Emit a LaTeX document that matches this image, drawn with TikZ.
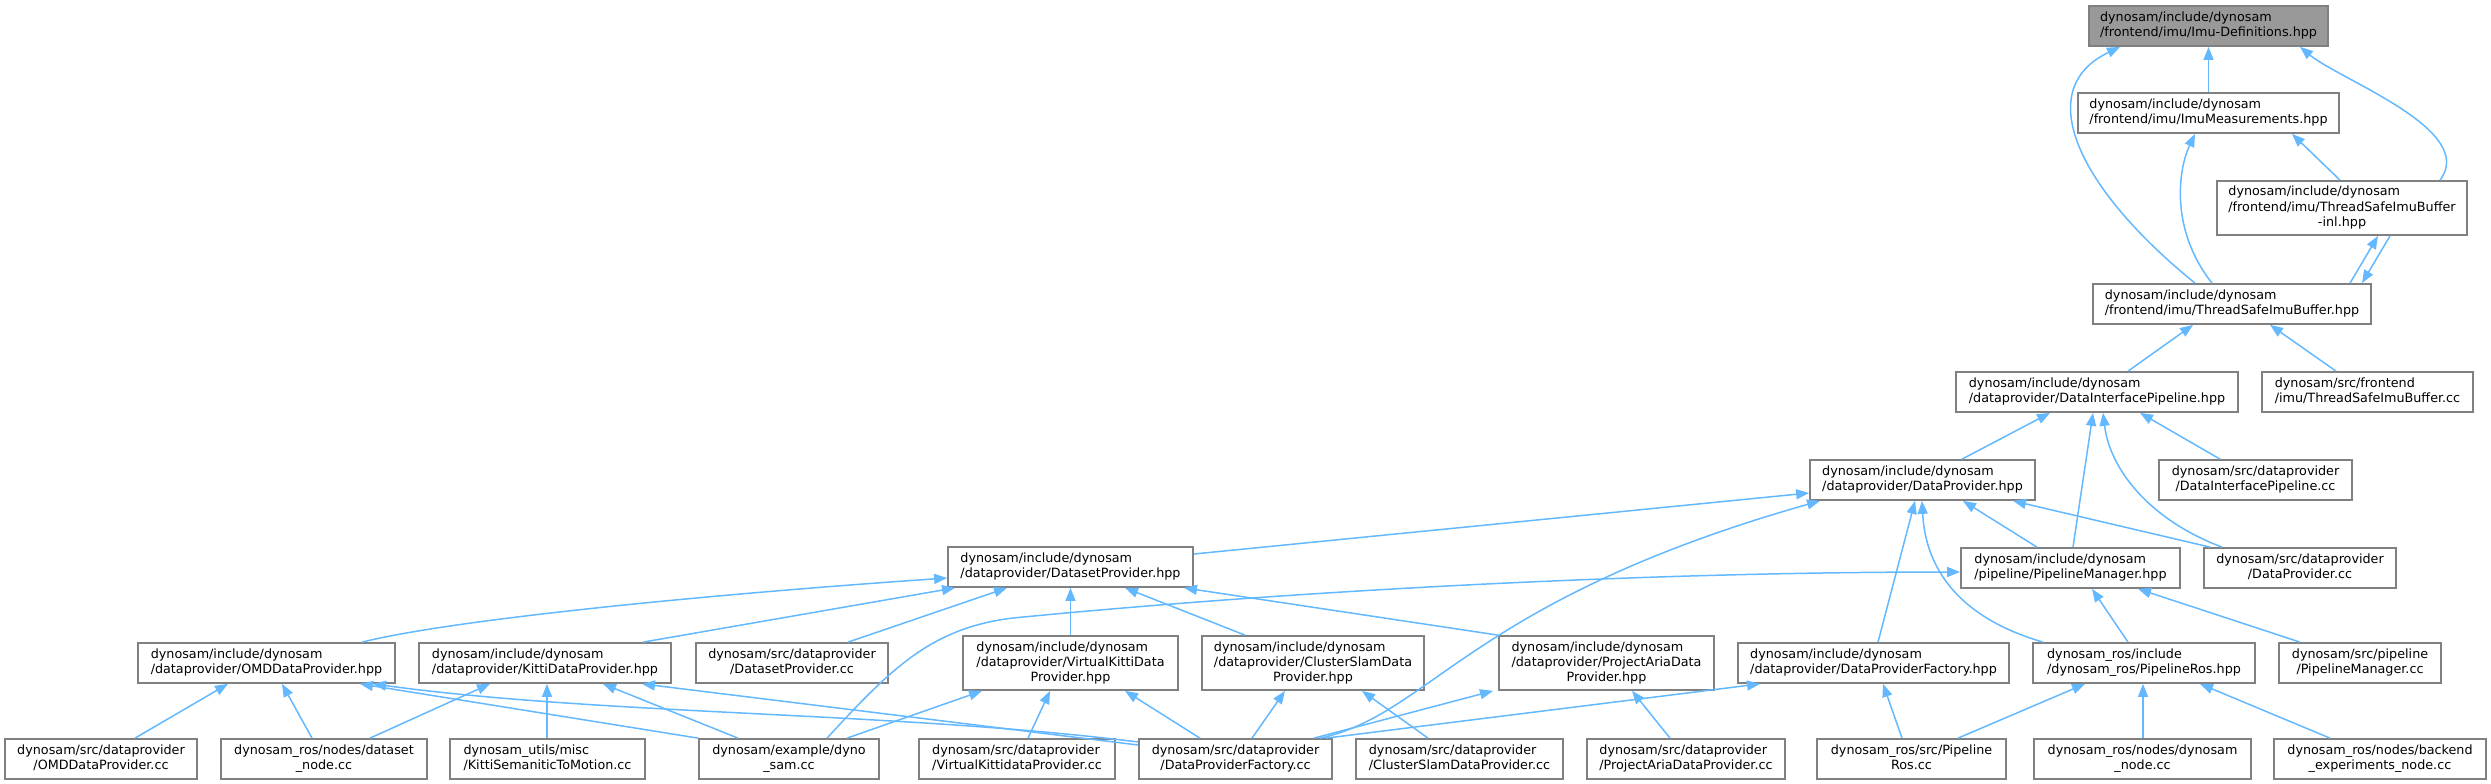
\documentclass[tikz,border=0pt]{standalone}
\usepackage{fontspec}
\setmainfont{DejaVu Sans}
\usetikzlibrary{arrows.meta}
\definecolor{edgeblue}{HTML}{63B8FF}
\definecolor{boxline}{HTML}{808080}
\definecolor{topfill}{HTML}{999999}
\newcommand{\twol}[2]{\begin{tabular}{@{}l@{}}#1\\\multicolumn{1}{@{}c@{}}{#2}\end{tabular}}
\newcommand{\threel}[3]{\begin{tabular}{@{}l@{}}#1\\#2\\\multicolumn{1}{@{}c@{}}{#3}\end{tabular}}
\tikzset{
  fbox/.style={draw=boxline, fill=white, line width=0.035cm, inner sep=0pt,
    minimum height=0.8cm, font=\fontsize{7.26}{8.54}\selectfont},
  fbox3/.style={fbox, minimum height=1.08cm},
  topbox/.style={fbox, fill=topfill},
  boxw/.style={minimum width=#1*0.02cm},
  incl/.style={draw=edgeblue, line width=0.03cm, -{Triangle[length=0.26cm,width=0.2cm]}}
}
\begin{document}
\begin{tikzpicture}[x=0.02cm,y=-0.02cm]
\useasboundingbox (0,0) rectangle (2491,784);

\node[topbox, boxw=239] (imudef) at (2208.5,26) {\twol{dynosam/include/dynosam}{/frontend/imu/Imu-Definitions.hpp}};
\node[fbox, boxw=261] (imumeas) at (2208.5,113) {\twol{dynosam/include/dynosam}{/frontend/imu/ImuMeasurements.hpp}};
\node[fbox3, boxw=250] (inl) at (2342,208) {\threel{dynosam/include/dynosam}{/frontend/imu/ThreadSafeImuBuffer}{-inl.hpp}};
\node[fbox, boxw=278] (tsib) at (2232,304) {\twol{dynosam/include/dynosam}{/frontend/imu/ThreadSafeImuBuffer.hpp}};
\node[fbox, boxw=282] (dip) at (2097,392) {\twol{dynosam/include/dynosam}{/dataprovider/DataInterfacePipeline.hpp}};
\node[fbox, boxw=211] (tsibcc) at (2367.5,392) {\twol{dynosam/src/frontend}{/imu/ThreadSafeImuBuffer.cc}};
\node[fbox, boxw=225] (dp) at (1922.5,480) {\twol{dynosam/include/dynosam}{/dataprovider/DataProvider.hpp}};
\node[fbox, boxw=193] (dipcc) at (2255.5,480) {\twol{dynosam/src/dataprovider}{/DataInterfacePipeline.cc}};
\node[fbox, boxw=245] (dsp) at (1070.5,567) {\twol{dynosam/include/dynosam}{/dataprovider/DatasetProvider.hpp}};
\node[fbox, boxw=219] (pm) at (2070.5,568) {\twol{dynosam/include/dynosam}{/pipeline/PipelineManager.hpp}};
\node[fbox, boxw=192] (dpcc) at (2300,568) {\twol{dynosam/src/dataprovider}{/DataProvider.cc}};

\node[fbox, boxw=257] (omd) at (266.5,663) {\twol{dynosam/include/dynosam}{/dataprovider/OMDDataProvider.hpp}};
\node[fbox, boxw=252] (kitti) at (545,663) {\twol{dynosam/include/dynosam}{/dataprovider/KittiDataProvider.hpp}};
\node[fbox, boxw=192] (dspcc) at (792,663) {\twol{dynosam/src/dataprovider}{/DatasetProvider.cc}};
\node[fbox3, boxw=215] (vk) at (1070.5,663) {\threel{dynosam/include/dynosam}{/dataprovider/VirtualKittiData}{Provider.hpp}};
\node[fbox3, boxw=222] (cs) at (1313,663) {\threel{dynosam/include/dynosam}{/dataprovider/ClusterSlamData}{Provider.hpp}};
\node[fbox3, boxw=215] (pa) at (1606.5,663) {\threel{dynosam/include/dynosam}{/dataprovider/ProjectAriaData}{Provider.hpp}};
\node[fbox, boxw=271] (dpf) at (1873.5,663) {\twol{dynosam/include/dynosam}{/dataprovider/DataProviderFactory.hpp}};
\node[fbox, boxw=222] (ros) at (2144,663) {\twol{dynosam\_ros/include}{/dynosam\_ros/PipelineRos.hpp}};
\node[fbox, boxw=162] (pmcc) at (2360,663) {\twol{dynosam/src/pipeline}{/PipelineManager.cc}};

\node[fbox, boxw=192] (omdcc) at (101,759) {\twol{dynosam/src/dataprovider}{/OMDDataProvider.cc}};
\node[fbox, boxw=206] (dsnode) at (324,759) {\twol{dynosam\_ros/nodes/dataset}{\_node.cc}};
\node[fbox, boxw=195] (kittisem) at (547.5,759) {\twol{dynosam\_utils/misc}{/KittiSemaniticToMotion.cc}};
\node[fbox, boxw=180] (dynosam) at (789,759) {\twol{dynosam/example/dyno}{\_sam.cc}};
\node[fbox, boxw=196] (vkcc) at (1017,759) {\twol{dynosam/src/dataprovider}{/VirtualKittidataProvider.cc}};
\node[fbox, boxw=193] (dpfcc) at (1235.5,759) {\twol{dynosam/src/dataprovider}{/DataProviderFactory.cc}};
\node[fbox, boxw=207] (cscc) at (1459.5,759) {\twol{dynosam/src/dataprovider}{/ClusterSlamDataProvider.cc}};
\node[fbox, boxw=198] (pacc) at (1686,759) {\twol{dynosam/src/dataprovider}{/ProjectAriaDataProvider.cc}};
\node[fbox, boxw=189] (roscc) at (1911.5,759) {\twol{dynosam\_ros/src/Pipeline}{Ros.cc}};
\node[fbox, boxw=217] (rosnode) at (2142.5,759) {\twol{dynosam\_ros/nodes/dynosam}{\_node.cc}};
\node[fbox, boxw=212] (backend) at (2380,759) {\twol{dynosam\_ros/nodes/backend}{\_experiments\_node.cc}};

\draw[incl] (imumeas) -- (imudef);
\draw[incl] (2440,0 |- inl.north) .. controls (2478,130) and (2340,80) .. (2300,0 |- imudef.south);
\draw[incl] (2195,0 |- tsib.north) .. controls (2080,190) and (2030,90) .. (2120,0 |- imudef.south);
\draw[incl] (2212,0 |- tsib.north) .. controls (2170,230) and (2178,170) .. (2195,0 |- imumeas.south);
\draw[incl] (2340,0 |- inl.north) -- (2292,0 |- imumeas.south);
\draw[incl] (2350,0 |- tsib.north) -- (2378,0 |- inl.south);
\draw[incl] (2390,0 |- inl.south) -- (2362,0 |- tsib.north);

\draw[incl] (2128,0 |- dip.north) -- (2193,0 |- tsib.south);
\draw[incl] (2336,0 |- tsibcc.north) -- (2270,0 |- tsib.south);
\draw[incl] (1962,0 |- dp.north) -- (2050,0 |- dip.south);
\draw[incl] (2073,0 |- pm.north) -- (2093,0 |- dip.south);
\draw[incl] (2222,0 |- dpcc.north) .. controls (2150,520) and (2110,470) .. (2103,0 |- dip.south);
\draw[incl] (2220,0 |- dipcc.north) -- (2140,0 |- dip.south);

\draw[incl] (dsp.east |- 0,554) -- (dp.west |- 0,493);
\draw[incl] (1320,0 |- dpfcc.north) .. controls (1430,715) and (1470,600) .. (1820,0 |- dp.south);
\draw[incl] (2037,0 |- pm.north) -- (1963,0 |- dp.south);
\draw[incl] (2210,0 |- dpcc.north) -- (2013,0 |- dp.south);
\draw[incl] (1878,0 |- dpf.north) -- (1915,0 |- dp.south);
\draw[incl] (2043,0 |- ros.north) .. controls (1950,615) and (1925,560) .. (1922,0 |- dp.south);

\draw[incl] (827,0 |- dynosam.north) .. controls (890,670) and (930,628) .. (1013,618)
  .. controls (1300,590) and (1650,572) .. (pm.west |- 0,572);
\draw[incl] (2128,0 |- ros.north) -- (2092,0 |- pm.south);
\draw[incl] (2300,0 |- pmcc.north) -- (2138,0 |- pm.south);
\draw[incl] (1958,0 |- roscc.north) -- (2085,0 |- ros.south);
\draw[incl] (2143,0 |- rosnode.north) -- (2143,0 |- ros.south);
\draw[incl] (2330,0 |- backend.north) -- (2200,0 |- ros.south);
\draw[incl] (1326,0 |- dpfcc.north) -- (1760,0 |- dpf.south);
\draw[incl] (1902,0 |- roscc.north) -- (1883,0 |- dpf.south);

\draw[incl] (362,0 |- omd.north) .. controls (450,620) and (700,595) .. (dsp.west |- 0,578);
\draw[incl] (643,0 |- kitti.north) -- (955,0 |- dsp.south);
\draw[incl] (848,0 |- dspcc.north) -- (1007,0 |- dsp.south);
\draw[incl] (vk) -- (dsp);
\draw[incl] (1245,0 |- cs.north) -- (1125,0 |- dsp.south);
\draw[incl] (pa.north west) -- (1184,0 |- dsp.south);

\draw[incl] (135,0 |- omdcc.north) -- (228,0 |- omd.south);
\draw[incl] (312,0 |- dsnode.north) -- (282,0 |- omd.south);
\draw[incl] (dynosam.north west) -- (360,0 |- omd.south);
\draw[incl] (dpfcc.west |- 0,742) .. controls (900,712) and (600,715) .. (373,0 |- omd.south);
\draw[incl] (370,0 |- dsnode.north) -- (490,0 |- kitti.south);
\draw[incl] (547,0 |- kittisem.north) -- (547,0 |- kitti.south);
\draw[incl] (738,0 |- dynosam.north) -- (603,0 |- kitti.south);
\draw[incl] (dpfcc.west |- 0,745) -- (642,0 |- kitti.south);
\draw[incl] (847,0 |- dynosam.north) -- (982,0 |- vk.south);
\draw[incl] (1028,0 |- vkcc.north) -- (1050,0 |- vk.south);
\draw[incl] (1200,0 |- dpfcc.north) -- (1125,0 |- vk.south);
\draw[incl] (1252,0 |- dpfcc.north) -- (1285,0 |- cs.south);
\draw[incl] (1428,0 |- cscc.north) -- (1362,0 |- cs.south);
\draw[incl] (1314,0 |- dpfcc.north) -- (1493,0 |- pa.south);
\draw[incl] (1670,0 |- pacc.north) -- (1632,0 |- pa.south);
\end{tikzpicture}
\end{document}
